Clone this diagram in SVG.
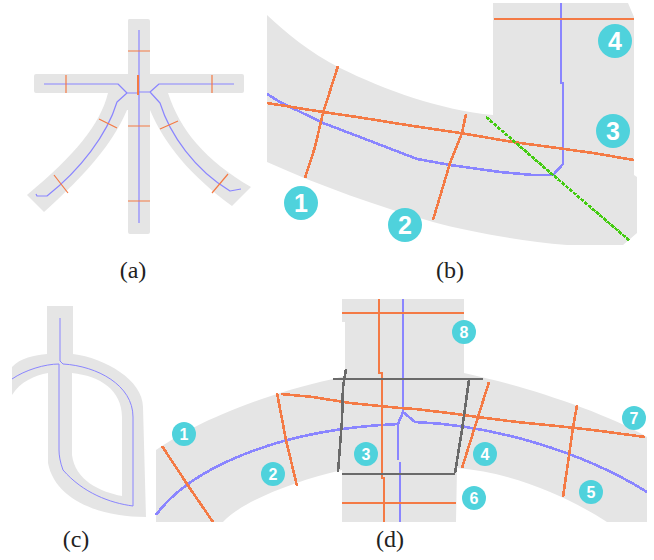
<svg xmlns="http://www.w3.org/2000/svg" width="654" height="560" viewBox="0 0 654 560">
<style>
.g{fill:#e5e5e5;stroke:none}
.l{fill:none;stroke-linejoin:round}
.o{stroke:#f47a45}
.b{stroke:#8a85ff}
.k{stroke:#6a6a6a}
.n{stroke:#44cc11}
.w2{stroke-width:2.6;shape-rendering:crispEdges}
.w1{stroke-width:1}
.s{fill:#4fd2dc}
.t{fill:#fff;font-family:"Liberation Sans",Arial,sans-serif;font-weight:700;text-anchor:middle}
.cap{fill:#222;font-family:"Liberation Serif","Times New Roman",serif;font-size:24px;text-anchor:middle}
</style>
<rect width="654" height="560" fill="#fff"/>
<g id="glyph-a">
<path class="g" d="M129,19H148Q150,19 150,21V74H242Q244,74 244,76V91Q244,93 242,93H168C180,130 205,160 251,187L232,206C190,175 165,145 150,110V232Q150,234 148,234H130Q128,234 128,232V110H127C112,145 85,175 44,212L27,195C75,155 100,125 108,93H36Q34,93 34,91V76Q34,74 36,74H128V21Q128,19 129,19Z"/>
</g>
<g id="connectors-a" class="l">
<path class="b" stroke-width="1.2" d="M139,30V223M44,84H118L127,93H138M234,84H159L150,92H138M127,93L117,102C107,135 80,170 47,196H37L36,194M150,92L160,103C170,135 195,170 230,191L241,189"/>
<path class="o" stroke-width="1.2" d="M128,51H150M128,126H150M128,201H150M66,75V93M212,75V93M99,119L117,128M54,175L68,193M160,129L178,121M212,193L228,174"/>
<path class="o" stroke-width="2" d="M138,75V95"/>
</g>
<g id="glyph-b">
<path class="g" d="M267,15C285,32 310,53 340,68C385,90 440,110 493,115V3H628L634,17V175L637,177V233L623,245H567C520,241 470,232 433,222C380,207 320,186 267,162Z"/>
</g>
<g id="connectors-b" class="l">
<path class="b w2" d="M267,94L280,102L323,123L360,137L417,159L450,165L500,172L533,175H553L563,164V83H561V3"/>
<path class="o w2" d="M494,19H634M267,103L323,112L357,117L413,126L460,133L513,142L550,147L593,153L634,160M338,66L323,113L315,147L305,178M466,114L462,133L450,163L433,220"/>
<path class="n w2" stroke-dasharray="4 1" d="M486,117L553,175L630,241"/>
</g>
<g id="glyph-c">
<path class="g" fill-rule="evenodd" d="M47,306H73V354C105,358 143,380 143,407L146,517C100,517 55,500 48,463L48,373C35,375 20,382 12,395V367C20,358 35,355 47,354ZM72,373V455C75,480 100,492 122,496V417C122,390 100,376 72,373Z"/>
</g>
<g id="connectors-c" class="l">
<path class="b w1" d="M60,318V361L63,364C97,366 133,385 133,417V506C110,503 83,493 63,470C60,462 59,455 59,450V364C45,364 25,370 12,379"/>
</g>
<g id="glyph-d">
<path class="g" d="M342,299H464V373C520,385 600,410 647,437V522H607C565,495 510,472 457,468L456,522H342V470C290,482 240,503 223,522H156V450C185,430 240,400 333,379L345,376V322H342Z"/>
</g>
<g id="connectors-d" class="l">
<path class="b w2" d="M156,515C185,475 265,430 398,424L403,412L415,422C490,425 580,450 647,492M403,299V412M398,424V460M400,462V522"/>
<path class="o w2" d="M281,394L313,397L350,403L400,408L415,409L457,414L477,417L517,422L557,426L593,430L645,437M379,299V373H382V478H384V522M342,313H464M342,503H456M162,446L189,487L213,522M277,393L286,440L297,486M489,382L478,417L462,468M577,405L573,428L563,497"/>
<path class="k w2" d="M333,379H483M342,474H455M346,369L343,387L342,420L338,472M469,380L462,430L455,473"/>
</g>
<g id="node-b1"><circle class="s" cx="301" cy="203" r="17"/><text class="t" x="301" y="212" font-size="25">1</text></g>
<g id="node-b2"><circle class="s" cx="405" cy="225" r="17"/><text class="t" x="405" y="234" font-size="25">2</text></g>
<g id="node-b3"><circle class="s" cx="613" cy="131" r="17"/><text class="t" x="613" y="140" font-size="25">3</text></g>
<g id="node-b4"><circle class="s" cx="615" cy="41" r="17"/><text class="t" x="615" y="50" font-size="25">4</text></g>
<g id="node-d1"><circle class="s" cx="184" cy="434" r="12"/><text class="t" x="184" y="440" font-size="16">1</text></g>
<g id="node-d2"><circle class="s" cx="273" cy="474" r="12"/><text class="t" x="273" y="480" font-size="16">2</text></g>
<g id="node-d3"><circle class="s" cx="366" cy="454" r="12"/><text class="t" x="366" y="460" font-size="16">3</text></g>
<g id="node-d4"><circle class="s" cx="485" cy="454" r="12"/><text class="t" x="485" y="460" font-size="16">4</text></g>
<g id="node-d5"><circle class="s" cx="591" cy="492" r="12"/><text class="t" x="591" y="498" font-size="16">5</text></g>
<g id="node-d6"><circle class="s" cx="474" cy="498" r="12"/><text class="t" x="474" y="504" font-size="16">6</text></g>
<g id="node-d7"><circle class="s" cx="634" cy="418" r="12"/><text class="t" x="634" y="424" font-size="16">7</text></g>
<g id="node-d8"><circle class="s" cx="464" cy="332" r="12"/><text class="t" x="464" y="338" font-size="16">8</text></g>
<g id="captions">
<text class="cap" x="133" y="278">(a)</text>
<text class="cap" x="450" y="278">(b)</text>
<text class="cap" x="76" y="547">(c)</text>
<text class="cap" x="390" y="547">(d)</text>
</g>
</svg>
